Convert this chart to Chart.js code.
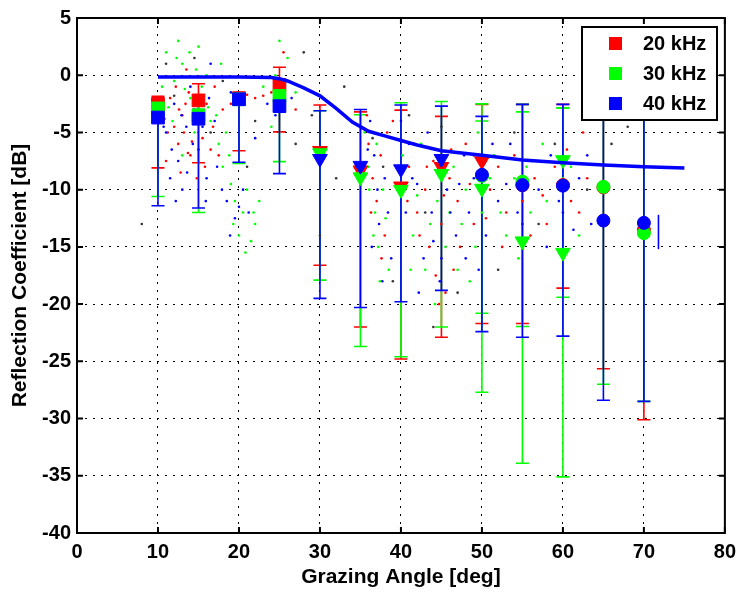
<!DOCTYPE html>
<html><head><meta charset="utf-8">
<script src="https://cdn.jsdelivr.net/npm/chart.js@4.4.0/dist/chart.umd.min.js"></script>
<style>html,body{margin:0;padding:0;background:#fff;}#wrap{width:743px;height:592px;position:relative;}</style>
</head><body><div id="wrap"><canvas id="c" width="743" height="592"></canvas></div>
<script>
// ---------------- data ----------------
const seriesNames = ['20 kHz', '30 kHz', '40 kHz'];
const angles = [10, 15, 20, 25, 30, 35, 40, 45, 50, 55, 60, 65, 70];

const mean20 = [-2.5, -2.2, -2.0, -0.85, -6.6, -8.3, -9.7, -8.0, -7.5, -9.6, -9.6, -9.8, -13.5];
const hi20   = [-1.85, -0.75, -1.55, 0.7, -2.6, -3.2, -3.05, -3.6, -2.55, -2.55, -2.55, -3, -3];
const lo20   = [-8.1, -7.65, -6.6, -4.95, -16.6, -22.0, -24.8, -22.9, -21.7, -21.7, -18.6, -25.65, -30.1];
const style20 = ['rect','rect','rect','rect','triangle','triangle','triangle','triangle','triangle','circle','circle','circle','circle'];

const mean30 = [-2.9, -3.5, -2.1, -1.8, -6.8, -8.9, -10.0, -8.6, -9.9, -14.5, -15.5, -9.75, -13.8];
const hi30   = [-2.2, -2.4, -1.8, -1.2, -3.1, -3.45, -2.4, -2.3, -2.5, -2.55, -2.85, -3, -3];
const lo30   = [-10.6, -12.0, -7.7, -7.55, -17.9, -23.7, -24.6, -22.0, -27.7, -33.9, -35.1, -27.0, -28.5];
const style30 = ['rect','rect','rect','rect','triangle','triangle','triangle','triangle','triangle','triangle','triangle','circle','circle'];

const anglesB30 = [50, 55, 60];
const meanB30 = [-8.8, -9.3, -7.4];
const hiB30   = [-4.0, -3.2, -2.85];
const loB30   = [-20.8, -21.95, -19.4];
const styleB30 = ['circle','circle','triangle'];

const mean40 = [-3.7, -3.8, -2.1, -2.7, -7.3, -7.9, -8.2, -7.3, -8.7, -9.6, -9.65, -12.7, -12.9];
const hi40   = [-3.0, -3.0, -1.9, -2.0, -3.1, -3.0, -2.6, -2.7, -3.6, -2.55, -2.55, -3, -3];
const lo40   = [-11.4, -11.6, -7.6, -8.6, -19.5, -20.3, -19.8, -18.8, -22.4, -22.9, -22.8, -28.4, -28.5];
const style40 = ['rect','rect','rect','rect','triangle','triangle','triangle','triangle','circle','circle','circle','circle','circle'];

const anglesB40 = [71.8];
const hiB40 = [-12.2];
const loB40 = [-15.2];

const modelAngles = [10, 15, 20, 24, 25, 26, 28, 30, 32, 34, 36, 38, 40, 42, 45, 50, 55, 60, 65, 70, 75];
const modelValues = [-0.15, -0.15, -0.15, -0.2, -0.3, -0.5, -1.1, -1.8, -2.9, -4.1, -4.9, -5.3, -5.7, -6.1, -6.6, -7.0, -7.4, -7.65, -7.85, -8.0, -8.1];

const dots20 = [[11.5,-2],[12,-4.5],[12.5,-6],[13,-3.5],[13.2,-5],[13.8,-1.5],[14,-7],[14.5,-4],[15.5,-5.5],[16,-2.5],[16.5,-6.5],[17,-1],[11,-7.5],[12.8,-8.5],[14.8,-9],[13.5,0.5],[18,-3],[22,-2],[23,-1.8],[24,-1.5],[26,-0.5],[25.5,2],[27,-3],[36,-6],[36.5,-9],[37,-11],[37.5,-7],[38,-14],[41,-8],[42,-12],[43,-10],[43.5,-15],[44,-7.5],[45,-13],[46,-9],[46.5,-17],[47,-11],[48,-6],[49,-13],[51,-10],[52,-8],[53,-12],[55,-11],[56.5,-9],[58,-13],[59,-8],[61,-11],[62.5,-5],[45.5,-19],[39,-4],
  [12.2,-1],[13.4,-2.5],[14.2,-5.8],[15.2,-3.2],[15.8,-8],[16.8,-4.5],[17.5,-7],[12.6,-3],[11.2,-5],[13.7,-6.8],[10.8,-3.8],[19,-2.5],[21,-1.7],[35.8,-3.5],[36.3,-12],[37.6,-16],[38.3,-5],[40.8,-11],[41.6,-6],[42.3,-14],[43.2,-8],[44.3,-17.5],[45.3,-10.5],[46.2,-6.5],[47.3,-15],[44.7,-20],[48.5,-9.5],[50.5,-12.5],[52.5,-15],[54,-7],[56,-14],[57.5,-10.5],[60.5,-6.5],[62,-12],[63,-9]];
const dots30 = [[10.5,-1],[11,2],[12,-0.5],[12.5,3],[13,1],[14,-2],[15,2.5],[16,0],[16.5,-4],[17.5,-6],[18,-8],[19,-9.5],[19.5,-11],[20.5,-12],[21,-10],[22,-13],[21.5,-14.5],[14.5,-5],[13,-7],[11.8,-4],[24,-4.5],[26,1.5],[27,-1.5],[25,3],[35.5,-5],[36,-8],[36.8,-12],[37.2,-15],[37.8,-10],[38.5,-17],[40.5,-10],[41.5,-14],[42.5,-6],[43,-17],[44.5,-11],[45.5,-15],[46.5,-8],[47.5,-13],[48.5,-18],[50,-12],[51.5,-7],[53,-14],[54,-9],[56,-12],[57.5,-6],[59.5,-10],[61,-8],[49.5,-5],
  [11.3,-2.8],[12.3,1.5],[13.3,-1.2],[13.9,2],[14.7,0.5],[15.4,-1],[16.2,-2.8],[17.2,-3.5],[18.4,-5],[18.8,-7],[19.3,-13],[20,-14],[20.8,-15.5],[21.8,-12],[22.5,-11],[17.8,1],[23,-1],[24.5,0],[36.1,-10],[36.6,-14],[37,-6],[37.4,-18],[38.1,-12.5],[40.2,-7],[41.2,-17],[42,-10.5],[43.6,-13],[44.2,-20],[45.2,-7],[46,-12],[47,-17],[48,-10],[49.2,-15],[51,-9],[52.3,-12],[54.5,-16],[55.5,-8],[58,-11],[60,-9],[62,-14]];
const dots40 = [[11,-5],[12,-2.5],[12.5,-7.5],[13.5,-4.5],[14,-1],[15,-6.5],[16,-9],[17,-4],[18.5,-11],[19.5,-12.5],[20.5,-10],[13,-10],[11.5,-9],[14.5,-3],[16.5,1],[19,-1.5],[22,-5.5],[24.5,-3.5],[26.5,-2],[36.2,-4],[36.7,-7],[37.3,-13],[38,-9],[38.8,-16],[41,-6],[42,-9.5],[42.8,-16],[43.8,-12],[44.8,-18],[45.7,-10],[46.8,-14],[47.8,-7],[49,-9],[50.5,-14],[52,-11],[53.5,-6],[55,-13],[57,-10],[58.5,-7],[60,-12],[62,-9],[63.5,-13],[40,-4],[48,-16],
  [11.7,-6.5],[12.9,-3.5],[13.6,-8.5],[14.3,-6],[15.5,-4.5],[15.9,-11],[17.3,-8],[17.9,-10],[18.9,-14],[20,-11.5],[21.2,-12],[16.3,-2],[12.2,-11],[10.7,-4.5],[23.5,-2.5],[35.9,-6.5],[36.4,-15],[37.1,-10],[37.7,-18],[38.4,-12],[40.6,-12],[41.4,-9],[42.2,-19],[43.3,-5],[44,-14.5],[45,-16],[46.1,-12],[47.2,-9.5],[48.4,-12],[49.6,-17],[51.3,-6],[53,-9.5],[54.4,-12],[56.2,-7.5],[58,-15],[59.5,-11],[61.3,-13.5],[63,-7]];
const dotsOther = [[12,-1.8],[14.5,1.5],[16.5,-5],[18,-0.5],[22,-4],[28,2],[33,-1],[27,-6],[36.5,-5.5],[37.8,-8],[41,-3.5],[43,-12],[45,-4.5],[47,-19],[49,-7],[52,-17],[54,-5],[57,-13],[59,-6],[63,-10],[66,-6],[68,-4.5],[32,-9],[29,-3.5],[39,-18],[44,-22],[21,-8],[11,1],[8,-13],[30,-14]];

const xTicks = [0, 10, 20, 30, 40, 50, 60, 70, 80];
const yTicks = [5, 0, -5, -10, -15, -20, -25, -30, -35, -40];

// ---------------- helpers ----------------
const RED = '#ff0000', GREEN = '#00ff00', BLUE = '#0000ff';
const FONT = "'Liberation Sans', Arial, Helvetica, sans-serif";

function pts(xs, ys) { return xs.map((a, i) => ({x: a, y: ys[i]})); }
function radii(st) { return st.map(s => s === 'rect' ? 9 : s === 'triangle' ? 8.5 : 6.5); }
function rots(st) { return st.map(s => s === 'triangle' ? 180 : 0); }
function markerSet(label, color, xs, ys, st, order) {
  return {type: 'scatter', label, data: pts(xs, ys), pointStyle: st, rotation: rots(st),
    pointRadius: radii(st), backgroundColor: color, borderColor: color, borderWidth: 1, order};
}
function dotSet(color, arr, order) {
  return {type: 'scatter', data: arr.map(p => ({x: p[0], y: p[1]})), pointStyle: 'circle',
    pointRadius: 1.3, backgroundColor: color, borderColor: color, borderWidth: 0, order};
}

const errorSets = [
  {color: RED, x: angles, lo: lo20, hi: hi20, cap: 6.5},
  {color: GREEN, x: angles, lo: lo30, hi: hi30, cap: 6.5},
  {color: GREEN, x: anglesB30, lo: loB30, hi: hiB30, cap: 6.5},
  {color: BLUE, x: angles, lo: lo40, hi: hi40, cap: 6.5},
  {color: BLUE, x: anglesB40, lo: loB40, hi: hiB40, cap: 0}
];

const errorBarPlugin = {
  id: 'errbars',
  beforeDatasetsDraw(chart) {
    const {ctx, chartArea: ca} = chart, x = chart.scales.x, y = chart.scales.y;
    ctx.save();
    ctx.beginPath(); ctx.rect(ca.left, ca.top, ca.width, ca.height); ctx.clip();
    ctx.lineWidth = 1.6;
    for (const s of errorSets) {
      ctx.strokeStyle = s.color;
      s.x.forEach((a, i) => {
        const px = x.getPixelForValue(a), pl = y.getPixelForValue(s.lo[i]), ph = y.getPixelForValue(s.hi[i]);
        ctx.beginPath();
        ctx.moveTo(px, ph); ctx.lineTo(px, pl);
        if (s.cap > 0) {
          ctx.moveTo(px - s.cap, ph); ctx.lineTo(px + s.cap, ph);
          ctx.moveTo(px - s.cap, pl); ctx.lineTo(px + s.cap, pl);
        }
        ctx.stroke();
      });
    }
    ctx.restore();
  }
};

const framePlugin = {
  id: 'frame',
  afterDraw(chart) {
    const {ctx, chartArea: ca} = chart, x = chart.scales.x, y = chart.scales.y;
    ctx.save();
    ctx.strokeStyle = '#000'; ctx.lineWidth = 2;
    ctx.strokeRect(ca.left, ca.top, ca.width, ca.height);
    ctx.beginPath();
    const L = 6;
    xTicks.forEach(v => { const p = x.getPixelForValue(v);
      ctx.moveTo(p, ca.bottom); ctx.lineTo(p, ca.bottom - L);
      ctx.moveTo(p, ca.top); ctx.lineTo(p, ca.top + L); });
    yTicks.forEach(v => { const p = y.getPixelForValue(v);
      ctx.moveTo(ca.left, p); ctx.lineTo(ca.left + L, p);
      ctx.moveTo(ca.right, p); ctx.lineTo(ca.right - L, p); });
    ctx.stroke();
    // legend box
    const bx = 582, by = 27, bw = 135, bh = 93;
    ctx.fillStyle = '#fff'; ctx.fillRect(bx, by, bw, bh);
    ctx.lineWidth = 2; ctx.strokeRect(bx, by, bw, bh);
    const cols = [RED, GREEN, BLUE], rows = [43.5, 73.5, 103.5];
    ctx.font = 'bold 20px ' + FONT; ctx.textBaseline = 'middle'; ctx.textAlign = 'left';
    seriesNames.forEach((n, i) => {
      ctx.fillStyle = cols[i]; ctx.fillRect(609, rows[i] - 6.5, 13, 13);
      ctx.fillStyle = '#000'; ctx.fillText(n, 643, rows[i] + 1);
    });
    ctx.restore();
  }
};

const chart = new Chart(document.getElementById('c'), {
  data: {
    datasets: [
      {type: 'line', data: pts(modelAngles, modelValues), borderColor: BLUE, borderWidth: 3.5,
        pointRadius: 0, fill: false, tension: 0, order: 0},
      markerSet('40 kHz', BLUE, angles, mean40, style40, 1),
      markerSet('30 kHz b', GREEN, anglesB30, meanB30, styleB30, 2),
      markerSet('30 kHz', GREEN, angles, mean30, style30, 3),
      markerSet('20 kHz', RED, angles, mean20, style20, 4),
      dotSet(BLUE, dots40, 10),
      dotSet(GREEN, dots30, 11),
      dotSet(RED, dots20, 12),
      dotSet('#333333', dotsOther, 13)
    ]
  },
  options: {
    responsive: false, animation: false, devicePixelRatio: 1, events: [],
    layout: {padding: {left: 0, right: 14, top: 15, bottom: 0}},
    plugins: {legend: {display: false}, tooltip: {enabled: false}},
    scales: {
      x: {type: 'linear', min: 0, max: 80,
        afterBuildTicks: s => { s.ticks = xTicks.map(v => ({value: v})); },
        afterFit: s => { s.height = 59; },
        ticks: {font: {family: FONT, size: 20, weight: 'bold'}, color: '#000', padding: 7, maxRotation: 0},
        grid: {color: '#000', lineWidth: 1, drawTicks: false},
        border: {display: false, dash: [2, 6]},
        title: {display: true, text: 'Grazing Angle [deg]', color: '#000',
          font: {family: FONT, size: 21, weight: 'bold'}, padding: {top: 0, bottom: 2}}
      },
      y: {type: 'linear', min: -40, max: 5,
        afterBuildTicks: s => { s.ticks = yTicks.map(v => ({value: v})); },
        afterFit: s => { s.width = 77; },
        ticks: {font: {family: FONT, size: 20, weight: 'bold'}, color: '#000', padding: 6},
        grid: {color: '#000', lineWidth: 1, drawTicks: false},
        border: {display: false, dash: [2, 6]},
        title: {display: true, text: 'Reflection Coefficient [dB]', color: '#000',
          font: {family: FONT, size: 21, weight: 'bold'}, padding: {top: 8, bottom: 0}}
      }
    }
  },
  plugins: [errorBarPlugin, framePlugin]
});
</script></body></html>
